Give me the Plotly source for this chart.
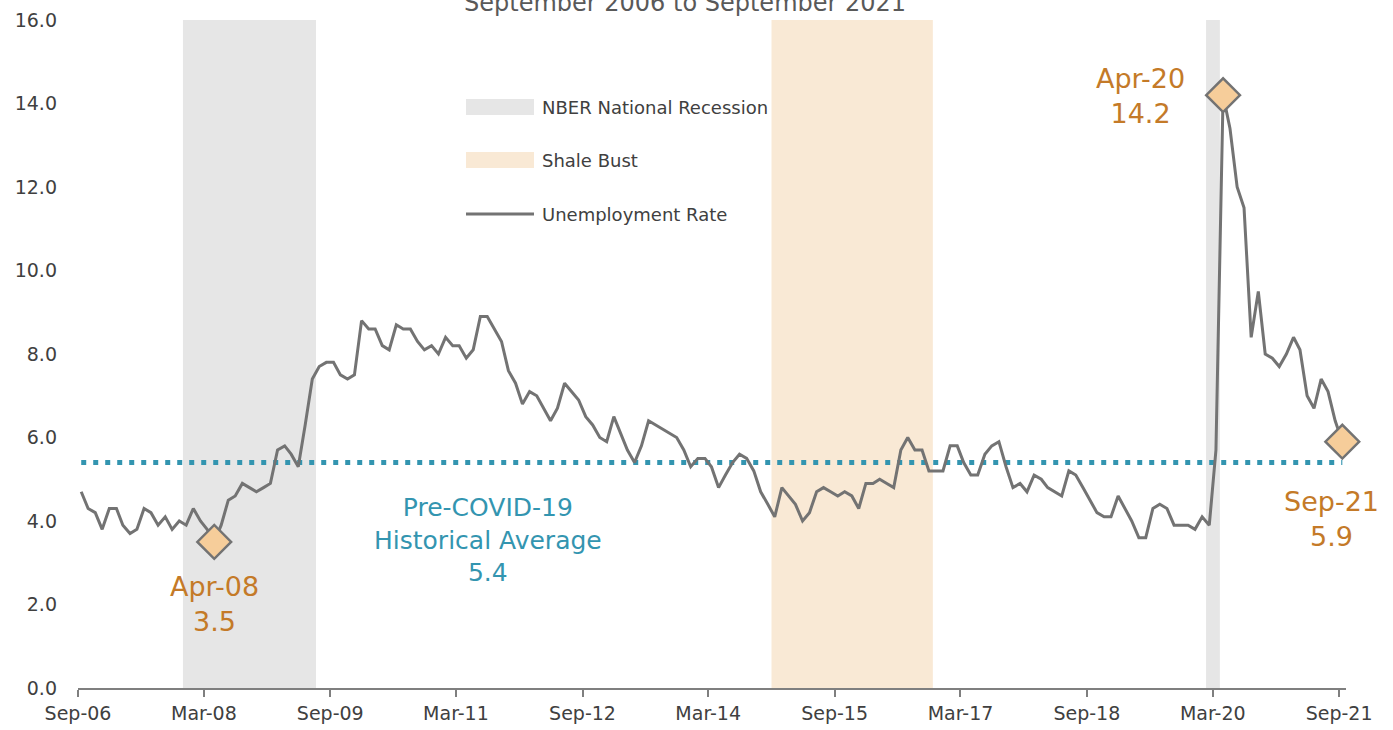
import plotly.graph_objects as go
import pandas as pd

# ---------------- data ----------------
start_month = "2006-09-01"
unemployment_rate = [
    4.7, 4.3, 4.2, 3.8, 4.3, 4.3, 3.9, 3.7, 3.8, 4.3, 4.2, 3.9, 4.1, 3.8, 4.0, 3.9,
    4.3, 4.0, 3.8, 3.5, 3.9, 4.5, 4.6, 4.9, 4.8, 4.7, 4.8, 4.9, 5.7, 5.8, 5.6, 5.3,
    6.3, 7.4, 7.7, 7.8, 7.8, 7.5, 7.4, 7.5, 8.8, 8.6, 8.6, 8.2, 8.1, 8.7, 8.6, 8.6,
    8.3, 8.1, 8.2, 8.0, 8.4, 8.2, 8.2, 7.9, 8.1, 8.9, 8.9, 8.6, 8.3, 7.6, 7.3, 6.8,
    7.1, 7.0, 6.7, 6.4, 6.7, 7.3, 7.1, 6.9, 6.5, 6.3, 6.0, 5.9, 6.5, 6.1, 5.7, 5.4,
    5.8, 6.4, 6.3, 6.2, 6.1, 6.0, 5.7, 5.3, 5.5, 5.5, 5.3, 4.8, 5.1, 5.4, 5.6,
    5.5, 5.2, 4.7, 4.4, 4.1, 4.8, 4.6, 4.4, 4.0, 4.2, 4.7, 4.8, 4.7, 4.6, 4.7, 4.6,
    4.3, 4.9, 4.9, 5.0, 4.9, 4.8, 5.7, 6.0, 5.7, 5.7, 5.2, 5.2, 5.2, 5.8, 5.8, 5.4,
    5.1, 5.1, 5.6, 5.8, 5.9, 5.3, 4.8, 4.9, 4.7, 5.1, 5.0, 4.8, 4.7, 4.6, 5.2, 5.1,
    4.8, 4.5, 4.2, 4.1, 4.1, 4.6, 4.3, 4.0, 3.6, 3.6, 4.3, 4.4, 4.3, 3.9, 3.9, 3.9,
    3.8, 4.1, 3.9, 5.7,
    14.2, 13.4, 12.0, 11.5, 8.4, 9.5, 8.0, 7.9, 7.7, 8.0, 8.4, 8.1, 7.0, 6.7, 7.4,
    7.1, 6.4, 5.9,
]
historical_average = 5.4
highlight_labels = ["Apr-08", "Apr-20", "Sep-21"]

recession_periods = [("2007-12-01", "2009-07-01"), ("2020-02-01", "2020-04-01")]
shale_bust_period = [("2014-12-01", "2016-11-01")]

tick_start = "2006-09-01"
axis_end = "2021-10-01"
y_ticks = [0, 2, 4, 6, 8, 10, 12, 14, 16]

title_text = "September 2006 to September 2021"

# ---------------- styles ----------------
FONT = "DejaVu Sans"
LINE_GRAY = "#737373"
REC_GRAY = "#e6e6e6"
SHALE = "#f9e9d5"
TEAL = "#3395b0"
ORANGE = "#c47a28"
DIAMOND_FILL = "#f6cd9a"
TEXT = "#404040"

months = pd.date_range(start_month, periods=len(unemployment_rate), freq="MS")
x_dates = months + pd.Timedelta(days=14)
month_labels = [d.strftime("%b-%y") for d in months]

fig = go.Figure()

# shaded periods
for x0, x1 in recession_periods:
    fig.add_shape(type="rect", xref="x", yref="y", x0=x0, x1=x1, y0=0, y1=16,
                  fillcolor=REC_GRAY, line_width=0, layer="below")
for x0, x1 in shale_bust_period:
    fig.add_shape(type="rect", xref="x", yref="y", x0=x0, x1=x1, y0=0, y1=16,
                  fillcolor=SHALE, line_width=0, layer="below")

# historical average dotted line
fig.add_trace(go.Scatter(
    x=[x_dates[0], x_dates[-1]], y=[historical_average, historical_average],
    mode="lines", line=dict(color=TEAL, width=5, dash="5px,7px"),
    hoverinfo="skip", showlegend=False))

# unemployment line
fig.add_trace(go.Scatter(
    x=x_dates, y=unemployment_rate, mode="lines",
    line=dict(color=LINE_GRAY, width=3), showlegend=False))

# highlighted points
hi_idx = [month_labels.index(l) for l in highlight_labels]
fig.add_trace(go.Scatter(
    x=[x_dates[i] for i in hi_idx], y=[unemployment_rate[i] for i in hi_idx],
    mode="markers", cliponaxis=False,
    marker=dict(symbol="diamond", size=26, color=DIAMOND_FILL,
                line=dict(color=LINE_GRAY, width=2.5)),
    showlegend=False))

# highlight labels
offsets = {"Apr-08": (0, -62), "Apr-20": (-83, -1), "Sep-21": (-11, -77)}
for i in hi_idx:
    lbl = month_labels[i]
    dx, dy = offsets[lbl]
    fig.add_annotation(x=x_dates[i], y=unemployment_rate[i], xref="x", yref="y",
                       text=f"{lbl}<br>{unemployment_rate[i]:.1f}", showarrow=False,
                       xshift=dx, yshift=dy, align="center",
                       font=dict(family=FONT, size=27, color=ORANGE))

# average label
fig.add_annotation(x="2011-07-20", y=historical_average, xref="x", yref="y",
                   text=f"Pre-COVID-19<br>Historical Average<br>{historical_average:.1f}",
                   showarrow=False, yanchor="top", yshift=-28, align="center",
                   font=dict(family=FONT, size=25, color=TEAL))

# title (partly cut off at the top, as in the reference)
fig.add_annotation(x=0.479, y=1, xref="paper", yref="paper", text=title_text,
                   showarrow=False, yanchor="bottom", yshift=1,
                   font=dict(family=FONT, size=24, color="#595959"))

# manual legend
W, H = 1268, 668
def px(xp):
    return (xp - 78) / W
def py(yp):
    return (688 - yp) / H

legend_items = [("NBER National Recession", "rect", REC_GRAY, 107),
                ("Shale Bust", "rect", SHALE, 160),
                ("Unemployment Rate", "line", LINE_GRAY, 214)]
for name, kind, color, yc in legend_items:
    if kind == "rect":
        fig.add_shape(type="rect", xref="paper", yref="paper",
                      x0=px(466), x1=px(534), y0=py(yc + 8), y1=py(yc - 8),
                      fillcolor=color, line_width=0)
    else:
        fig.add_shape(type="line", xref="paper", yref="paper",
                      x0=px(466), x1=px(534), y0=py(yc), y1=py(yc),
                      line=dict(color=color, width=3))
    fig.add_annotation(x=px(540), y=py(yc), xref="paper", yref="paper",
                       text=name, showarrow=False, xanchor="left", yanchor="middle",
                       font=dict(family=FONT, size=18, color=TEXT))

fig.update_layout(
    width=1393, height=730,
    margin=dict(l=78, r=47, t=20, b=42, autoexpand=False),
    plot_bgcolor="white", paper_bgcolor="white",
    font=dict(family=FONT, size=19, color=TEXT),
    showlegend=False,
    xaxis=dict(type="date", range=[tick_start, axis_end], automargin=False,
               tick0=tick_start, dtick="M18", tickformat="%b-%y",
               showgrid=False, zeroline=False,
               showline=True, linecolor="#7f7f7f", linewidth=1.5,
               ticks="outside", ticklen=7, tickcolor="#7f7f7f", tickwidth=1.5,
               tickfont=dict(family=FONT, size=19, color=TEXT)),
    yaxis=dict(range=[0, 16], tickvals=y_ticks, tickformat=".1f", automargin=False,
               showgrid=False, zeroline=False, showline=False,
               ticks="", ticklabelstandoff=20,
               tickfont=dict(family=FONT, size=19, color=TEXT)),
)

fig.write_html("out.html", config={"displayModeBar": False},
               post_script="document.body.style.margin='0';document.body.style.overflow='hidden';")
